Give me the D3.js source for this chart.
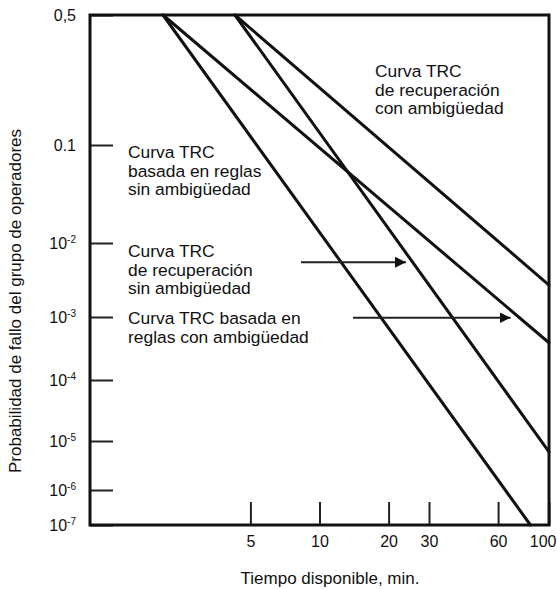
<!DOCTYPE html>
<html>
<head>
<meta charset="utf-8">
<script src="https://cdn.jsdelivr.net/npm/d3@7.9.0/dist/d3.min.js"></script>
<style>
  body { margin: 0; background: #fff; }
  svg { display: block; font-family: "Liberation Sans", Arial, Helvetica, sans-serif; }
  .tick line { stroke: #222; stroke-width: 2; }
  .tick text { fill: #111; font-size: 16px; }
  .note { fill: #111; font-size: 17.4px; }
</style>
</head>
<body>
<svg id="chart" width="557" height="590"></svg>
<script>
// ===== data =====
const xTicks = [5, 10, 20, 30, 60, 100];
const yTicks = [0.5, 0.1, 1e-2, 1e-3, 1e-4, 1e-5, 1e-6, 1e-7];
const yTickBase = ['0,5', '0.1', '10', '10', '10', '10', '10', '10'];
const yTickExp  = ['', '', '-2', '-3', '-4', '-5', '-6', '-7'];

// each curve: start / end in (minutes, probability)
const curveNames = [
  'TRC basada en reglas sin ambigüedad',
  'TRC basada en reglas con ambigüedad',
  'TRC de recuperación sin ambigüedad',
  'TRC de recuperación con ambigüedad'
];
const curveT = [[2.08, 83], [2.08, 100], [4.28, 100], [4.28, 100]];
const curveP = [[0.5, 1e-7], [0.5, 3.9e-4], [0.5, 6e-6], [0.5, 2.7e-3]];

// arrows pointing from a label to its curve
const arrowT = [[8.3, 23.8], [14, 68]];
const arrowP = [5.5e-3, 9.7e-4];

// text notes
const noteLines = [
  ['Curva TRC', 'basada en reglas', 'sin ambigüedad'],
  ['Curva TRC', 'de recuperación', 'sin ambigüedad'],
  ['Curva TRC basada en', 'reglas con ambigüedad'],
  ['Curva TRC', 'de recuperación', 'con ambigüedad']
];
const notePos = [[128, 158], [128, 257], [128, 324], [375, 77]];

// ===== layout =====
const plot = { left: 90, right: 549, top: 15, bottom: 525 };
// the vertical axis of the original is not evenly spaced per decade
const yTickPx = [15, 145, 243, 317, 380, 441, 490, 525];

const svg = d3.select('#chart');

const x = d3.scaleLog().domain([1, 100]).range([plot.left, plot.right]);
const y = d3.scaleLog().domain(yTicks).range(yTickPx);

// arrow head
svg.append('defs').append('marker')
    .attr('id', 'head')
    .attr('viewBox', '0 0 10 10')
    .attr('refX', 10).attr('refY', 5)
    .attr('markerUnits', 'userSpaceOnUse')
    .attr('markerWidth', 11).attr('markerHeight', 12)
    .attr('orient', 'auto')
  .append('path')
    .attr('d', 'M0,0L10,5L0,10Z')
    .attr('fill', '#111');

// y axis ticks (pointing inward) + labels with superscripts
const yAxis = svg.append('g')
    .attr('transform', `translate(${plot.left},0)`)
    .call(d3.axisLeft(y).tickValues(yTicks).tickSize(-23).tickPadding(14).tickFormat(() => ''));
yAxis.select('.domain').remove();
yAxis.selectAll('.tick text').each(function (d, i) {
  const t = d3.select(this).attr('dy', '0.36em');
  t.append('tspan').text(yTickBase[i]);
  if (yTickExp[i]) {
    t.append('tspan').attr('dy', '-0.6em').attr('font-size', '10px').text(yTickExp[i]);
  }
});

// x axis ticks (pointing up) + labels
const xAxis = svg.append('g')
    .attr('transform', `translate(0,${plot.bottom})`)
    .call(d3.axisBottom(x).tickValues(xTicks).tickSize(-23).tickPadding(10.5).tickFormat(d3.format('d')));
xAxis.select('.domain').remove();
// last label sits against the right edge in the original
xAxis.selectAll('.tick text')
    .filter(d => d === 100)
    .attr('text-anchor', 'end')
    .attr('x', 7);

// frame
svg.append('rect')
    .attr('x', plot.left).attr('y', plot.top)
    .attr('width', plot.right - plot.left).attr('height', plot.bottom - plot.top)
    .attr('fill', 'none')
    .attr('stroke', '#111')
    .attr('stroke-width', 3);

// curves
const line = d3.line().x(d => x(d[0])).y(d => y(d[1]));
svg.append('g')
  .selectAll('path')
  .data(curveNames)
  .join('path')
    .attr('d', (_, i) => line(d3.zip(curveT[i], curveP[i])))
    .attr('fill', 'none')
    .attr('stroke', '#111')
    .attr('stroke-width', 3)
    .attr('stroke-linecap', 'round');

// arrows
svg.append('g')
  .selectAll('line')
  .data(arrowP)
  .join('line')
    .attr('x1', (_, i) => x(arrowT[i][0]))
    .attr('x2', (_, i) => x(arrowT[i][1]))
    .attr('y1', d => y(d))
    .attr('y2', d => y(d))
    .attr('stroke', '#222')
    .attr('stroke-width', 2)
    .attr('marker-end', 'url(#head)');

// notes
const notes = svg.append('g')
  .selectAll('text')
  .data(noteLines)
  .join('text')
    .attr('class', 'note')
    .attr('x', (_, i) => notePos[i][0])
    .attr('y', (_, i) => notePos[i][1]);
notes.each(function (lines, i) {
  d3.select(this).selectAll('tspan')
    .data(lines)
    .join('tspan')
      .attr('x', notePos[i][0])
      .attr('dy', (_, j) => j === 0 ? 0 : 18.5)
      .text(d => d);
});

// axis titles
svg.append('text')
    .attr('x', 330).attr('y', 584)
    .attr('text-anchor', 'middle')
    .attr('font-size', 17)
    .attr('fill', '#111')
    .text('Tiempo disponible, min.');

svg.append('text')
    .attr('transform', 'translate(21,301) rotate(-90)')
    .attr('text-anchor', 'middle')
    .attr('font-size', 17)
    .attr('fill', '#111')
    .text('Probabilidad de fallo del grupo de operadores');
</script>
</body>
</html>
